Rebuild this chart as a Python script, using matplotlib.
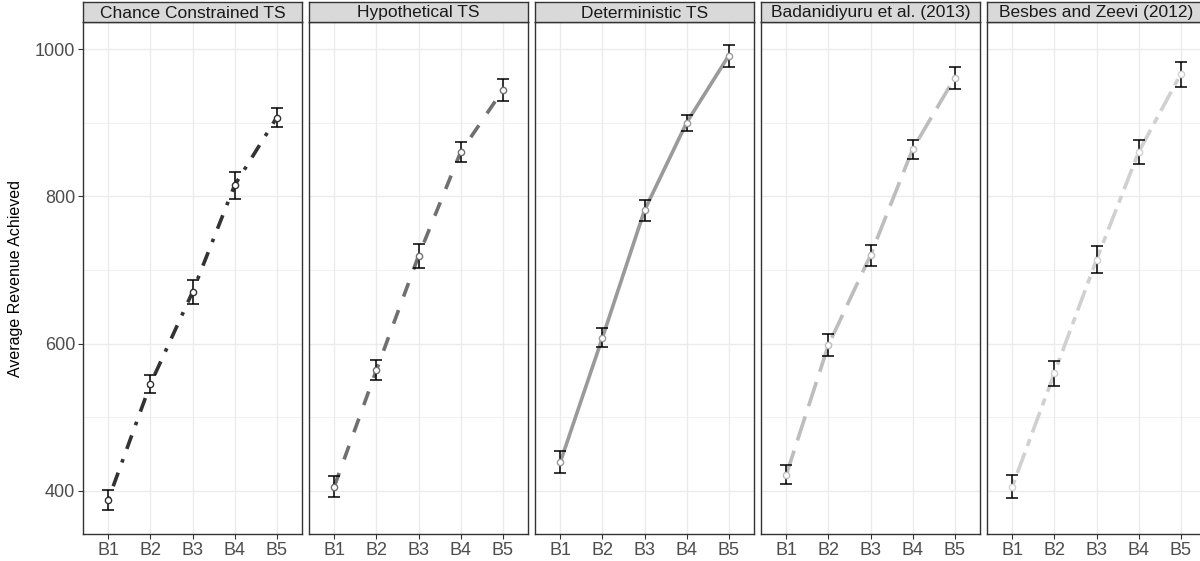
import numpy as np
import matplotlib
matplotlib.use("Agg")
import matplotlib.pyplot as plt

plt.rcParams['font.family'] = ['Liberation Sans', 'DejaVu Sans']

# budgets on the x axis
budgets = ["B1", "B2", "B3", "B4", "B5"]

methods = ["Chance Constrained TS", "Hypothetical TS", "Deterministic TS",
           "Badanidiyuru et al. (2013)", "Besbes and Zeevi (2012)"]

# mean revenue per budget, one list per method
cc_ts_mean = [388, 545, 670, 815, 907]
hyp_ts_mean = [406, 564, 719, 860, 944]
det_ts_mean = [439, 608, 781, 900, 991]
badan_mean = [422, 598, 720, 864, 961]
besbes_mean = [406, 560, 714, 860, 966]

# half width of the error bars
cc_ts_err = [14, 12, 16, 18, 13]
hyp_ts_err = [14, 14, 16, 14, 15]
det_ts_err = [15, 13, 14, 11, 15]
badan_err = [13, 15, 14, 13, 15]
besbes_err = [16, 17, 18, 16, 17]

means = [cc_ts_mean, hyp_ts_mean, det_ts_mean, badan_mean, besbes_mean]
errs = [cc_ts_err, hyp_ts_err, det_ts_err, badan_err, besbes_err]

line_colors = ["#333333", "#707070", "#9a9a9a", "#bdbdbd", "#d0d0d0"]
line_dashes = [(1, 3, 4, 3), (4, 4), None, (7, 3), (2, 2, 6, 2)]

W, H = 1200, 561
fig = plt.figure(figsize=(W / 100, H / 100), dpi=100)

panel_left = 83
panel_w = 219
panel_step = 226
panel_top = 22
panel_bot = 534
strip_h = 20

ymin, ymax = 341.6, 1036.7
x = np.arange(1, 6)

for i, name in enumerate(methods):
    left = panel_left + i * panel_step
    ax = fig.add_axes([left / W, (H - panel_bot) / H, panel_w / W, (panel_bot - panel_top) / H])
    ax.set_xlim(0.4, 5.6)
    ax.set_ylim(ymin, ymax)

    ax.set_yticks([400, 600, 800, 1000])
    ax.set_yticks([500, 700, 900], minor=True)
    ax.set_xticks(x)
    ax.set_xticklabels(budgets)
    ax.grid(True, which='major', color='#ebebeb', lw=1.0, zorder=0)
    ax.grid(True, which='minor', axis='y', color='#ebebeb', lw=0.5, zorder=0)
    ax.set_axisbelow(True)
    ax.tick_params(axis='both', which='major', length=3.5, width=0.8, color='#333333',
                   labelsize=13, labelcolor='#4d4d4d', pad=2)
    ax.tick_params(axis='y', which='minor', length=0)
    if i > 0:
        ax.tick_params(axis='y', which='major', length=0, labelleft=False)
    for s in ax.spines.values():
        s.set_color('#333333')
        s.set_linewidth(1.0)

    ln, = ax.plot(x, means[i], color=line_colors[i], lw=2.6, zorder=2,
                  solid_capstyle='butt', dash_capstyle='butt')
    if line_dashes[i] is not None:
        ln.set_dashes(line_dashes[i])
    ax.errorbar(x, means[i], yerr=errs[i], fmt='none', ecolor='black',
                elinewidth=1.1, capsize=4.5, capthick=1.1, zorder=3)
    ax.plot(x, means[i], 'o', ms=4.5, mfc='white', mec=line_colors[i],
            mew=1.0, zorder=4)

    # facet strip
    sax = fig.add_axes([left / W, (H - panel_top) / H, panel_w / W, strip_h / H])
    sax.set_xticks([])
    sax.set_yticks([])
    sax.set_facecolor('#d9d9d9')
    for s in sax.spines.values():
        s.set_color('#333333')
        s.set_linewidth(1.0)
    sax.text(0.5, 0.45, name, ha='center', va='center', fontsize=12.5,
             color='#1a1a1a', transform=sax.transAxes)

fig.text(16 / W, 1 - 278 / H, "Average Revenue Achieved", rotation=90,
         ha='center', va='center', fontsize=11.5,
         family=['Liberation Sans Narrow', 'Liberation Sans'], color='black')

fig.savefig("out.png", dpi=100)
